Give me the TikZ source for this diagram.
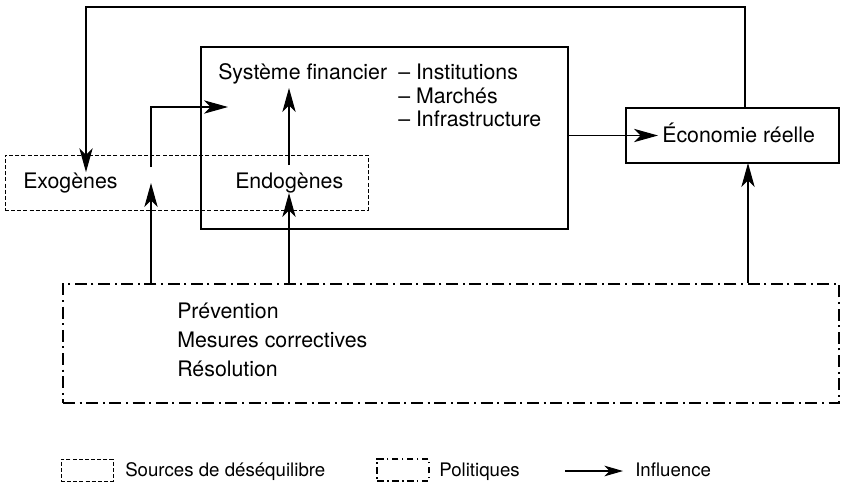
\documentclass[tikz,border=0pt]{standalone}
\usepackage{fontspec}
\setmainfont{TeX Gyre Heros}
\usetikzlibrary{arrows.meta,fit}

\begin{document}
\begin{tikzpicture}[x=0.75pt,y=0.75pt,yscale=-1,xscale=1,
  arr/.style={line width=0.8pt,-{Stealth[length=18pt,width=10pt,inset=5pt]}},
  legarr/.style={line width=0.8pt,-{Stealth[length=14pt,width=8pt,inset=4pt]}},
  plainbox/.style={draw,line width=0.9pt,inner sep=0pt},
  srcbox/.style={draw,line width=0.7pt,inner sep=0pt,dash pattern=on 3pt off 1.6pt},
  polbox/.style={draw,line width=1.5pt,inner sep=0pt,dash pattern=on 9pt off 3.5pt on 1.4pt off 3.5pt},
  txt/.style={anchor=base west,inner sep=0pt,font=\fontsize{16}{19}\selectfont},
  legtxt/.style={anchor=base west,inner sep=0pt,font=\fontsize{14}{17}\selectfont}]
\useasboundingbox (0,0) rectangle (842,483);

%Boxes
\node [plainbox,fit={(201,47) (568,229)}] (sys) {};
\node [plainbox,fit={(626,108) (839,163)}] (eco) {};
\node [srcbox,fit={(5,155) (368,210)}] (src) {};
\node [polbox,fit={(63,284) (839,403)}] (pol) {};

% Text Node
\node [txt] (sysname) at (218,79) {Système financier};
\node [txt] (inst) at (398,79) {– Institutions};
\node [txt] (march) at (398,103) {– Marchés};
\node [txt] (infra) at (398,126) {– Infrastructure};
\node [txt] (exo) at (23,188) {Exogènes};
\node [txt] (endo) at (235,188) {Endogènes};
\node [txt] (ecotxt) at (662,142) {Économie réelle};
\node [txt] (prev) at (177,318) {Prévention};
\node [txt] (corr) at (177,347) {Mesures correctives};
\node [txt] (resol) at (177,376) {Résolution};

%Connectors
\coordinate (fbR) at (745,7);
\coordinate (fbL) at (86,7);
\coordinate (exoOut) at (151,167);
\coordinate (sysIn) at (228,107);
\coordinate (endoOut) at (289,165);
\coordinate (sysUp) at (289,88);
\coordinate (exoIn) at (151,183);
\coordinate (endoIn) at (289,193);
\coordinate (ecoIn) at (748,163);

\draw [arr] (eco.north -| fbR) -- (fbR) -- (fbL) -- (fbL |- exo.north);
\draw [arr] (exoOut) |- (sysIn);
\draw [arr] (endoOut) -- (sysUp);
\draw [arr] (pol.north -| exoIn) -- (exoIn);
\draw [arr] (pol.north -| endoIn) -- (endoIn);
\draw [arr] (pol.north -| ecoIn) -- (ecoIn);
\draw [arr,shorten >=3pt] (sys.east |- eco.west) -- (ecotxt.west |- eco.west);

%Legend
\node [srcbox,fit={(61,459) (113,481)}] (legsrc) {};
\node [legtxt] (legsrctxt) at (125,476) {Sources de déséquilibre};
\node [polbox,line width=1.3pt,dash pattern=on 5pt off 2.5pt on 1.2pt off 2.5pt,fit={(377,459) (429,481)}] (legpol) {};
\node [legtxt] (legpoltxt) at (439,476) {Politiques};
\coordinate (legA) at (565,471);
\coordinate (legB) at (623,471);
\draw [legarr] (legA) -- (legB);
\node [legtxt] (leginf) at (635,476) {Influence};

\end{tikzpicture}
\end{document}
